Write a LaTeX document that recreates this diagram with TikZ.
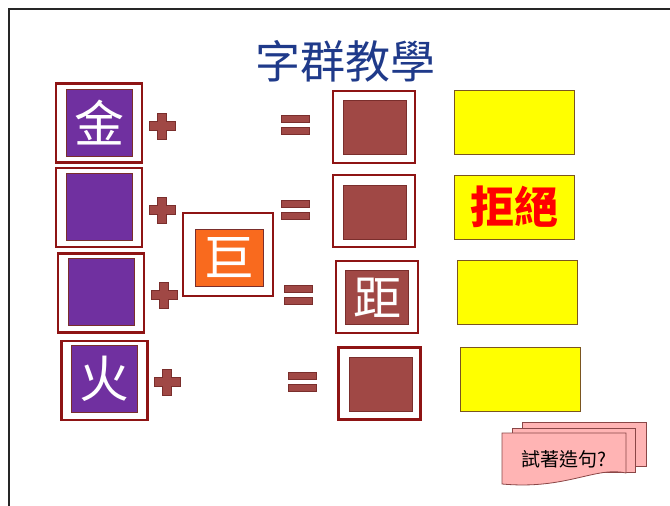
\documentclass[tikz,border=0pt]{standalone}
\usepackage{fontspec}
\newfontfamily\cjk{Noto Sans CJK TC}
\definecolor{framered}{HTML}{8E1414}
\definecolor{brickred}{HTML}{A04845}
\definecolor{signedge}{HTML}{7A2E2C}
\definecolor{radpurple}{HTML}{7030A0}
\definecolor{stemorange}{HTML}{F96A1E}
\definecolor{wordyellow}{HTML}{FFFF00}
\definecolor{wordedge}{HTML}{7A5520}
\definecolor{titleblue}{HTML}{1F3A8A}
\definecolor{cardpink}{HTML}{FFB4B4}
\definecolor{cardedge}{HTML}{8A4646}
\tikzset{
  outerbox/.style={draw=framered, line width=2.8pt, fill=white, minimum width=86, minimum height=79, inner sep=0pt},
  midbox/.style={draw=framered, line width=2.8pt, fill=white, minimum width=82, minimum height=72, inner sep=0pt},
  radbox/.style={draw=signedge, line width=0.6pt, fill=radpurple, minimum width=66, minimum height=67, inner sep=0pt, text=white, font=\cjk\fontsize{50}{52}\selectfont},
  charbox/.style={draw=signedge, line width=0.6pt, fill=brickred, minimum width=63, minimum height=54, inner sep=0pt, text=white, font=\cjk\fontsize{48}{50}\selectfont},
  wordbox/.style={draw=wordedge, line width=1pt, fill=wordyellow, minimum width=120, minimum height=64, inner sep=0pt, text=red, font=\cjk\bfseries\fontsize{44}{46}\selectfont},
  sign/.style={draw=signedge, line width=0.8pt, fill=brickred},
  card/.style={draw=cardedge, line width=0.8pt, fill=cardpink}
}
\begin{document}
\begin{tikzpicture}[x=1pt, y=-1pt]
  \path[use as bounding box] (0,0) rectangle (670,506);

  % Frame
  \draw[line width=2pt, black!85] (9,520) -- (9,9) -- (690,9);

  % Title
  \node[text=titleblue, font=\cjk\fontsize{45}{47}\selectfont] (title) at (345,61) {字群教學};

  % Radicals
  \node[outerbox] (rad1) at (99,123) {};
  \node[radbox] (radin1) at (99,122.5) {金};
  \node[outerbox] (rad2) at (99,207.5) {};
  \node[radbox] (radin2) at (99,207) {};
  \node[outerbox] (rad3) at (101,293) {};
  \node[radbox] (radin3) at (101,292) {};
  \node[outerbox] (rad4) at (104.5,380.5) {};
  \node[radbox] (radin4) at (104.5,378.5) {火};

  % Shared part
  \node[outerbox, minimum width=90, minimum height=83] (stem) at (228,254.5) {};
  \node[radbox, fill=stemorange, minimum width=68, minimum height=57] (stemin) at (229,257.5) {巨};

  % Plus signs
  \foreach \cx/\cy in {162/126, 162/210, 164/295, 167/382}
    \draw[sign] (\cx-4.5,\cy-13) -- (\cx+4.5,\cy-13) -- (\cx+4.5,\cy-4.5) -- (\cx+13,\cy-4.5)
      -- (\cx+13,\cy+4.5) -- (\cx+4.5,\cy+4.5) -- (\cx+4.5,\cy+13) -- (\cx-4.5,\cy+13)
      -- (\cx-4.5,\cy+4.5) -- (\cx-13,\cy+4.5) -- (\cx-13,\cy-4.5) -- (\cx-4.5,\cy-4.5) -- cycle;

  % Equal signs
  \foreach \cx/\cy in {295/125, 295/210, 298/295, 302/382} {
    \draw[sign] (\cx-14,\cy-9.5) rectangle (\cx+14,\cy-2.5);
    \draw[sign] (\cx-14,\cy+2.5) rectangle (\cx+14,\cy+9.5);
  }

  % Result characters
  \node[midbox] (res1) at (374,127) {};
  \node[charbox] (resin1) at (374.5,127) {};
  \node[midbox] (res2) at (374,211) {};
  \node[charbox] (resin2) at (374.5,212) {};
  \node[midbox] (res3) at (377,297) {};
  \node[charbox] (resin3) at (377,297.5) {距};
  \node[midbox] (res4) at (379.5,383.5) {};
  \node[charbox] (resin4) at (380.5,384.5) {};

  % Words
  \node[wordbox] (word1) at (514,122) {};
  \node[wordbox] (word2) at (514,207) {拒絕};
  \node[wordbox] (word3) at (517,292) {};
  \node[wordbox] (word4) at (520,379.5) {};

  % Cards
  \draw[card] (522,422) rectangle (646,466);
  \draw[card] (512,428) rectangle (635,472);
  \draw[card] (502,433) -- (626,433) -- (626,473)
    .. controls (596,466) and (566,490) .. (502,484) -- cycle;
  \node[font=\cjk\fontsize{19}{21}\selectfont] (try) at (564,459) {試著造句?};
\end{tikzpicture}
\end{document}
